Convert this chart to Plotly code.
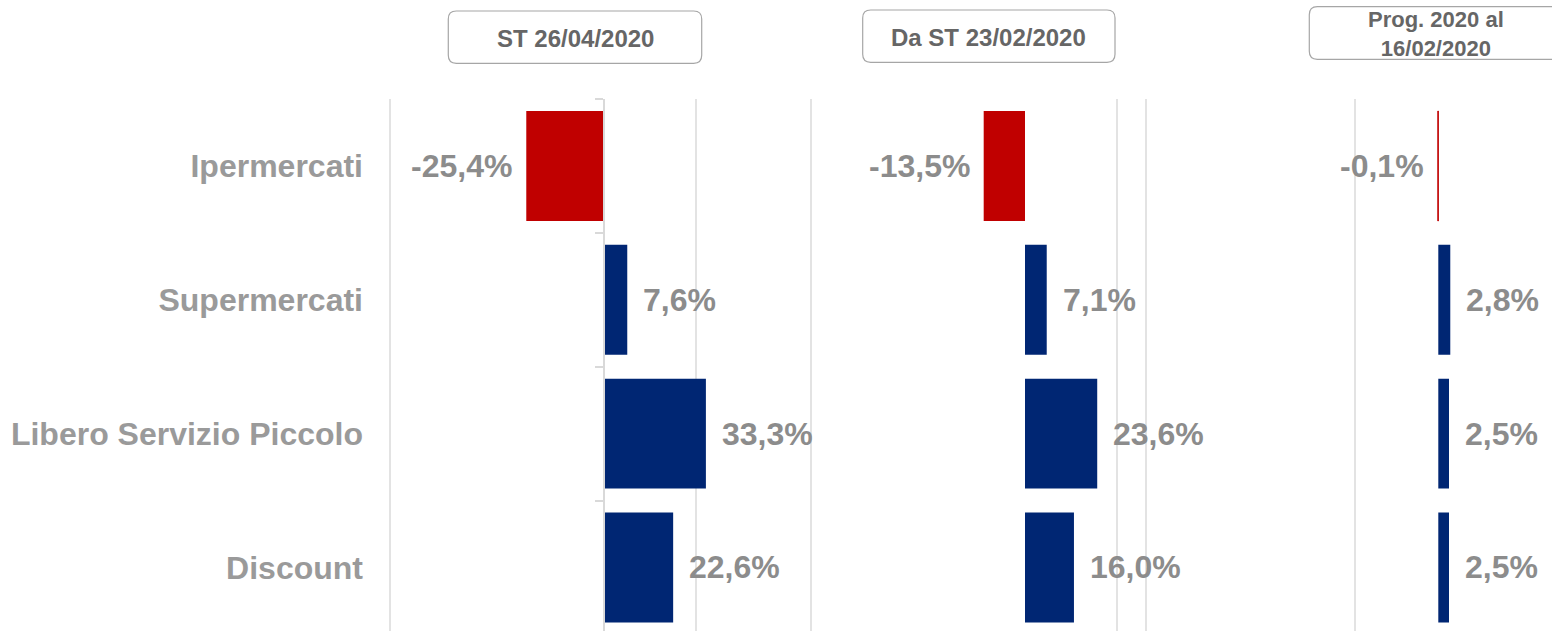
import plotly.graph_objects as go

# ---------------- data ----------------
categories = ["Ipermercati", "Supermercati", "Libero Servizio Piccolo", "Discount"]
st_26_04_2020 = [-25.4, 7.6, 33.3, 22.6]
da_st_23_02_2020 = [-13.5, 7.1, 23.6, 16.0]
prog_2020_al_16_02_2020 = [-0.1, 2.8, 2.5, 2.5]
panel_titles = ["ST 26/04/2020", "Da ST 23/02/2020", "Prog. 2020 al<br>16/02/2020"]
series = [st_26_04_2020, da_st_23_02_2020, prog_2020_al_16_02_2020]

# ---------------- style / layout ----------------
W, H = 1552, 631
FONT = "Arial, Liberation Sans, sans-serif"
NAVY = "#002673"
RED = "#C00000"
GRID = "#E3E3E3"
VAL_COLOR = "#8C8C8C"
CAT_COLOR = "#9A9A9A"
HEAD_COLOR = "#666666"
BOX_COLOR = "#A6A6A6"

PLOT_TOP = 99.1          # px from top
Y_RANGE = [3.475, -0.5]  # category bands (bottom band slightly cut)


def px(x):
    return x / W


def py(y):
    return 1 - y / H


panels = [
    dict(ax="x", dom=(380, 805), zero=604.0, scale=3.06, grid=[-70, 30],
         box=(448.3, 11.0, 701.7, 63.3), tsize=24),
    dict(ax="x2", dom=(806, 1200), zero=1025.0, scale=3.06, grid=[-70, 30, 39.5],
         box=(862.7, 10.0, 1115.0, 62.3), tsize=24),
    dict(ax="x3", dom=(1300, 1552), zero=1438.3, scale=4.28, grid=[-19.5],
         box=(1309.3, 6.7, 1562.0, 59.3), tsize=22),
]


def fmt(v):
    return f"{v:.1f}%".replace(".", ",")


def rounded_path(x0, y0, x1, y1, r):
    pts = [
        ("M", [(x0 + r, y0)]),
        ("L", [(x1 - r, y0)]),
        ("Q", [(x1, y0), (x1, y0 + r)]),
        ("L", [(x1, y1 - r)]),
        ("Q", [(x1, y1), (x1 - r, y1)]),
        ("L", [(x0 + r, y1)]),
        ("Q", [(x0, y1), (x0, y1 - r)]),
        ("L", [(x0, y0 + r)]),
        ("Q", [(x0, y0), (x0 + r, y0)]),
    ]
    s = ""
    for cmd, ps in pts:
        s += cmd + " " + " ".join(f"{px(a):.5f},{py(b):.5f}" for a, b in ps) + " "
    return s + "Z"


fig = go.Figure()
annotations = []
shapes = []
layout_axes = {}

for p, vals, title in zip(panels, series, panel_titles):
    colors = [RED if v < 0 else NAVY for v in vals]
    lw = [1 if abs(v) < 0.5 else 0 for v in vals]
    fig.add_trace(go.Bar(
        x=vals, y=categories, orientation="h",
        xaxis=p["ax"], yaxis="y",
        marker=dict(color=colors, line=dict(color=colors, width=lw)),
        showlegend=False, hoverinfo="skip",
    ))
    d0, d1 = p["dom"]
    rng = [(d0 - p["zero"]) / p["scale"], (d1 - p["zero"]) / p["scale"]]
    key = "xaxis" if p["ax"] == "x" else "xaxis" + p["ax"][1:]
    layout_axes[key] = dict(
        domain=[px(d0), min(px(d1), 1.0)], range=rng, anchor="y",
        showgrid=True, gridcolor=GRID, gridwidth=1.5,
        tickmode="array", tickvals=p["grid"], showticklabels=False,
        ticks="", zeroline=False, showline=False, fixedrange=True,
    )
    # value labels
    for c, v in zip(categories, vals):
        annotations.append(dict(
            x=v, y=c, xref=p["ax"], yref="y", text=fmt(v), showarrow=False,
            xanchor="left" if v >= 0 else "right",
            xshift=14 if v >= 0 else -12,
            font=dict(family=FONT, size=32, color=VAL_COLOR, weight="bold"),
        ))
    # header box + title
    bx0, by0, bx1, by1 = p["box"]
    shapes.append(dict(
        type="path", xref="paper", yref="paper",
        path=rounded_path(bx0, by0, bx1, by1, 8),
        line=dict(color=BOX_COLOR, width=1.2), fillcolor="rgba(0,0,0,0)",
    ))
    annotations.append(dict(
        x=px((bx0 + bx1) / 2), y=py((by0 + by1) / 2 + 1), xref="paper", yref="paper",
        text=title, showarrow=False, xanchor="center", yanchor="middle",
        font=dict(family=FONT, size=p["tsize"], color=HEAD_COLOR, weight="bold"),
    ))

# dummy trace so the zero axis of the first panel (with boundary ticks) is drawn
fig.add_trace(go.Scatter(x=[None], y=[None], xaxis="x", yaxis="y2",
                         showlegend=False, hoverinfo="skip"))

ydom = [0, py(PLOT_TOP)]
fig.update_layout(
    width=W, height=H,
    margin=dict(l=0, r=0, t=0, b=0),
    paper_bgcolor="white", plot_bgcolor="rgba(0,0,0,0)",
    bargap=0.178,
    showlegend=False,
    yaxis=dict(
        type="category", categoryorder="array", categoryarray=categories,
        range=Y_RANGE, domain=ydom, anchor="free", position=px(363),
        showgrid=False, zeroline=False, showline=False, ticks="",
        tickfont=dict(family=FONT, size=32, color=CAT_COLOR, weight="bold"),
        fixedrange=True,
    ),
    yaxis2=dict(
        overlaying="y", range=Y_RANGE, domain=ydom, anchor="free",
        position=px(604), showline=True, linecolor="#D9D9D9", linewidth=2,
        ticks="outside", ticklen=8, tickwidth=2, tickcolor="#D9D9D9",
        tickmode="array", tickvals=[-0.5, 0.5, 1.5, 2.5, 3.5],
        showticklabels=False, showgrid=False, zeroline=False, fixedrange=True,
    ),
    annotations=annotations,
    shapes=shapes,
    **layout_axes,
)

fig.write_html(
    "out.html",
    config={"displayModeBar": False},
    post_script="document.body.style.margin='0';document.body.style.overflow='hidden';",
)
